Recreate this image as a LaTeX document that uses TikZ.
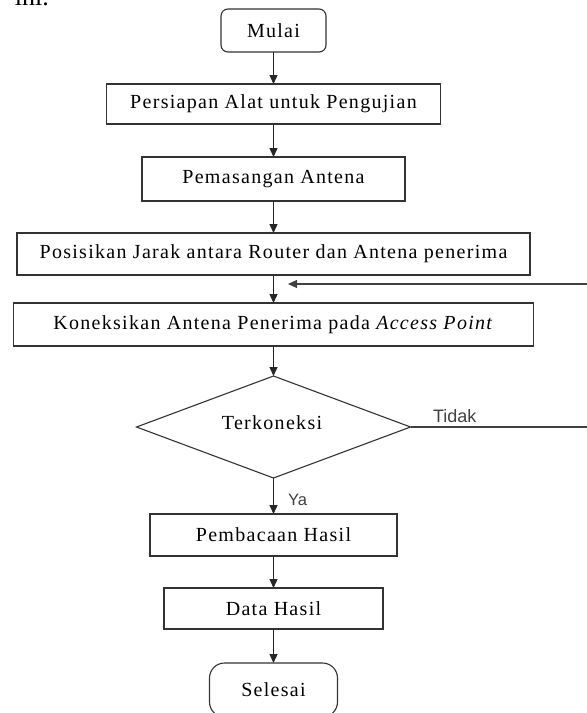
\documentclass[tikz,border=0pt]{standalone}
\usepackage{fontspec}
\usetikzlibrary{arrows.meta,shapes.geometric}
\newfontfamily\boxfont[LetterSpace=6.5]{Liberation Serif}
\newfontfamily\plainserif{Liberation Serif}
\newfontfamily\labelfont{Liberation Sans}
\begin{document}
\begin{tikzpicture}[x=1pt,y=-1pt,
  every node/.style={inner sep=0pt,outer sep=0pt},
  procbox/.style={draw=black!80,line width=1.1pt,rectangle,
    font=\boxfont\fontsize{20}{22}\selectfont,text=black},
  termbox/.style={procbox,rounded corners=#1},
  decision/.style={draw=black!80,line width=1.1pt,diamond,aspect=2.69,
    minimum width=274pt,minimum height=102pt},
  flow/.style={draw=black!85,line width=1.3pt,-{Triangle[length=9pt,width=8pt]}},
  plainline/.style={draw=black!75,line width=1.1pt},
  lbl/.style={font=\labelfont\fontsize{18}{20}\selectfont,text=black!75,anchor=base west}]
\useasboundingbox (0,0) rectangle (587,713);
\node[anchor=base west,font=\plainserif\fontsize{26}{28}\selectfont] (ini) at (15,5) {ini.};
\node[termbox=7pt,minimum width=105pt,minimum height=43pt] (mulai) at (273.5,30.5) {Mulai};
\node[procbox,minimum width=334pt,minimum height=40pt] (b1) at (273.5,104) {Persiapan Alat untuk Pengujian};
\node[procbox,minimum width=263pt,minimum height=44pt] (b2) at (273.5,179) {Pemasangan Antena};
\node[procbox,minimum width=513pt,minimum height=42pt] (b3) at (273.5,254) {Posisikan Jarak antara Router dan Antena penerima};
\node[procbox,minimum width=520pt,minimum height=43pt] (b4) at (273.5,324.5) {Koneksikan Antena Penerima pada \textit{Access Point}};
\node[decision] (d) at (273.5,427) {};
\node[font=\boxfont\fontsize{20}{22}\selectfont] (dt) at (272,423) {Terkoneksi};
\node[procbox,minimum width=247pt,minimum height=42pt] (b5) at (273.5,535) {Pembacaan Hasil};
\node[procbox,minimum width=219pt,minimum height=41pt] (b6) at (273.5,608.5) {Data Hasil};
\node[termbox=15pt,minimum width=128pt,minimum height=54pt] (sel) at (273.5,690) {Selesai};
\draw[flow] (mulai) -- (b1);
\draw[flow] (b1) -- (b2);
\draw[flow] (b2) -- (b3);
\draw[flow] (b3) -- (b4);
\draw[flow] (b4) -- (d);
\draw[flow] (d) -- (b5);
\draw[flow] (b5) -- (b6);
\draw[flow] (b6) -- (sel);
\coordinate (r1) at (588.5,427);
\coordinate (r2) at (588.5,284);
\coordinate (tip) at (288,284);
\draw[plainline] (d.east) -- (r1) -- (r2);
\draw[plainline,-{Triangle[length=9pt,width=8pt]}] (r2) -- (tip);
\node[lbl] (tidak) at (433,422.5) {Tidak};
\node[lbl,font=\labelfont\fontsize{16.5}{18}\selectfont] (ya) at (288,505) {Ya};
\end{tikzpicture}
\end{document}
